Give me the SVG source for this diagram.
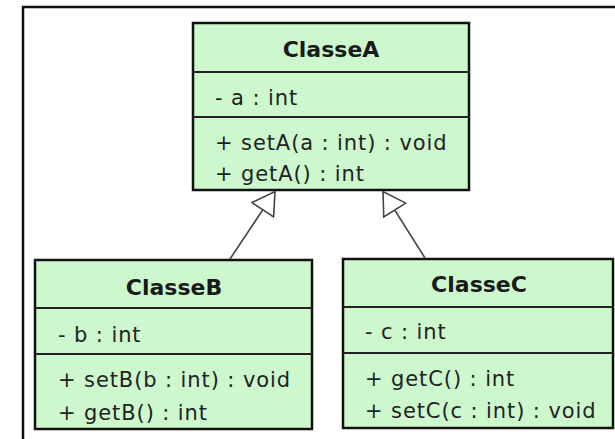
<svg xmlns="http://www.w3.org/2000/svg" width="615" height="439" viewBox="0 0 615 439">
<style>
.box{fill:#cdf7cd;stroke:#111;stroke-width:2.5}
.div{stroke:#222;stroke-width:2}
.title{font-family:"DejaVu Sans",sans-serif;font-weight:bold;font-size:22px;fill:#1a1a1a;text-anchor:middle}
.mem{font-family:"DejaVu Sans",sans-serif;font-size:21px;fill:#222;letter-spacing:0.9px}
.conn{stroke:#444;stroke-width:1.6;fill:none}
</style>
<defs>
<marker id="gen" markerUnits="userSpaceOnUse" viewBox="-1 -1 24 28" refX="22" refY="13" markerWidth="24" markerHeight="28" orient="auto">
<path d="M0,0 L22,13 L0,26 Z" fill="#fff" stroke="#444" stroke-width="1.6"/>
</marker>
</defs>
<rect width="615" height="439" fill="#fff"/>
<g id="frame">
<line x1="22" y1="7" x2="615" y2="7" stroke="#111" stroke-width="2.5"/>
<line x1="23" y1="6" x2="23" y2="439" stroke="#111" stroke-width="2.5"/>
</g>
<g id="ClasseA">
<rect class="box" x="193" y="23" width="276" height="167"/>
<line class="div" x1="193" y1="72" x2="469" y2="72"/>
<line class="div" x1="193" y1="117" x2="469" y2="117"/>
<text class="title" x="331" y="57">ClasseA</text>
<text class="mem" x="215" y="105">- a : int</text>
<text class="mem" x="215" y="150">+ setA(a : int) : void</text>
<text class="mem" x="215" y="181">+ getA() : int</text>
</g>
<g id="ClasseB">
<rect class="box" x="35" y="260" width="277" height="169"/>
<line class="div" x1="35" y1="308" x2="312" y2="308"/>
<line class="div" x1="35" y1="354" x2="312" y2="354"/>
<text class="title" x="174" y="295">ClasseB</text>
<text class="mem" x="58" y="342">- b : int</text>
<text class="mem" x="58" y="387">+ setB(b : int) : void</text>
<text class="mem" x="58" y="420">+ getB() : int</text>
</g>
<g id="ClasseC">
<rect class="box" x="343" y="259" width="270" height="169"/>
<line class="div" x1="343" y1="307" x2="613" y2="307"/>
<line class="div" x1="343" y1="353" x2="613" y2="353"/>
<text class="title" x="479" y="292">ClasseC</text>
<text class="mem" x="365" y="339">- c : int</text>
<text class="mem" x="365" y="386">+ getC() : int</text>
<text class="mem" x="365" y="418">+ setC(c : int) : void</text>
</g>
<g id="connectors">
<line class="conn" x1="230" y1="259" x2="275" y2="191.5" marker-end="url(#gen)"/>
<line class="conn" x1="425" y1="258" x2="383" y2="191.5" marker-end="url(#gen)"/>
</g>
</svg>
